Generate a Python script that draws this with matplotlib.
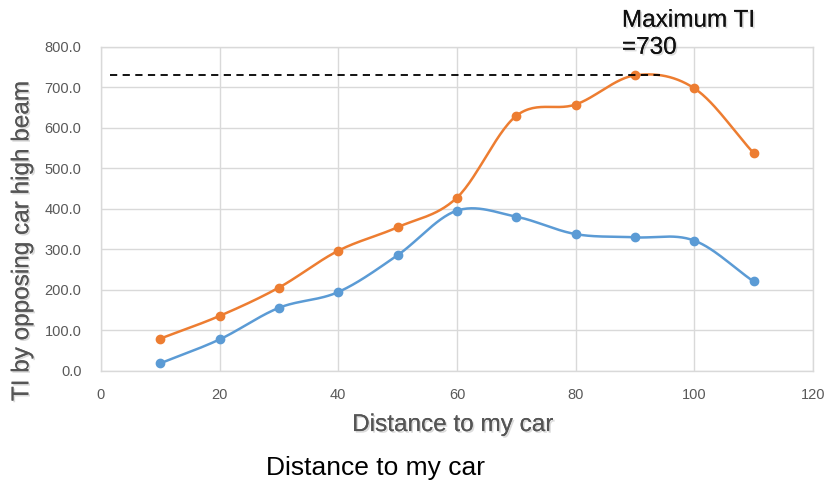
import numpy as np
import matplotlib
matplotlib.use("Agg")
import matplotlib.pyplot as plt
import matplotlib.patheffects as pe

distance = [10, 20, 30, 40, 50, 60, 70, 80, 90, 100, 110]
ti_orange = [80, 136, 206, 297, 355, 428, 630, 658, 730, 698, 538]
ti_blue = [19, 78, 156, 195, 286, 396, 381, 338, 330, 322, 221]
max_ti = 730
xticks = [0, 20, 40, 60, 80, 100, 120]
yticks = [0, 100, 200, 300, 400, 500, 600, 700, 800]

plt.rcParams['font.family'] = ['Liberation Sans', 'DejaVu Sans']


def smooth(x, y, n=30):
    # Catmull-Rom style smoothing (like Excel's smoothed line)
    x = np.asarray(x, float)
    y = np.asarray(y, float)
    px = np.concatenate([[2 * x[0] - x[1]], x, [2 * x[-1] - x[-2]]])
    py = np.concatenate([[2 * y[0] - y[1]], y, [2 * y[-1] - y[-2]]])
    xs, ys = [], []
    t = np.linspace(0, 1, n)
    for i in range(1, len(px) - 2):
        p0x, p1x, p2x, p3x = px[i - 1], px[i], px[i + 1], px[i + 2]
        p0y, p1y, p2y, p3y = py[i - 1], py[i], py[i + 1], py[i + 2]
        s = 1 / 6
        c1x, c1y = p1x + (p2x - p0x) * s, p1y + (p2y - p0y) * s
        c2x, c2y = p2x - (p3x - p1x) * s, p2y - (p3y - p1y) * s
        bx = (1 - t) ** 3 * p1x + 3 * (1 - t) ** 2 * t * c1x + 3 * (1 - t) * t ** 2 * c2x + t ** 3 * p2x
        by = (1 - t) ** 3 * p1y + 3 * (1 - t) ** 2 * t * c1y + 3 * (1 - t) * t ** 2 * c2y + t ** 3 * p2y
        xs.extend(bx)
        ys.extend(by)
    return np.array(xs), np.array(ys)


fig = plt.figure(figsize=(8.27, 4.83), dpi=100)
ax = fig.add_axes([0.1221, 0.2319, 0.8609, 0.6708])

orange = '#ED7D31'
blue = '#5B9BD5'
for ys, c in [(ti_blue, blue), (ti_orange, orange)]:
    sx, sy = smooth(distance, ys)
    ax.plot(sx, sy, color=c, lw=1.8, zorder=3)
    ax.plot(distance, ys, 'o', color=c, ms=6, zorder=4)

ax.plot([1.5, 94.3], [max_ti, max_ti], color='black', lw=1.3, ls=(0, (4, 3)), zorder=5)

ax.set_xlim(0, 120)
ax.set_ylim(0, 800)
ax.set_xticks(xticks)
ax.set_yticks(yticks)
ax.set_yticklabels([f"{v:.1f}" for v in yticks])
ax.grid(True, color='#d9d9d9', lw=1)
ax.set_axisbelow(True)
for s in ax.spines.values():
    s.set_color('#d9d9d9')
    s.set_linewidth(1)
ax.tick_params(length=0, labelsize=10.5, labelcolor='#595959')
ax.tick_params(axis='y', pad=14)
ax.tick_params(axis='x', pad=12)

shadow = [pe.withSimplePatchShadow(offset=(1.2, -1.2), shadow_rgbFace='#999999', alpha=0.35), pe.Normal()]

fig.text(0.027, 0.5, 'TI by opposing car high beam', rotation=90, fontsize=17.5,
         color='#555555', ha='center', va='center', path_effects=shadow)
fig.text(0.547, 0.12, 'Distance to my car', fontsize=17.5, color='#555555',
         ha='center', va='center', path_effects=shadow)
fig.text(0.4535, 0.031, 'Distance to my car', fontsize=19, color='black',
         ha='center', va='center')
fig.text(0.752, 0.98, 'Maximum TI\n=730', fontsize=17.5, color='#111111',
         ha='left', va='top', linespacing=1.3, path_effects=shadow)

fig.savefig('out.png', dpi=100)
